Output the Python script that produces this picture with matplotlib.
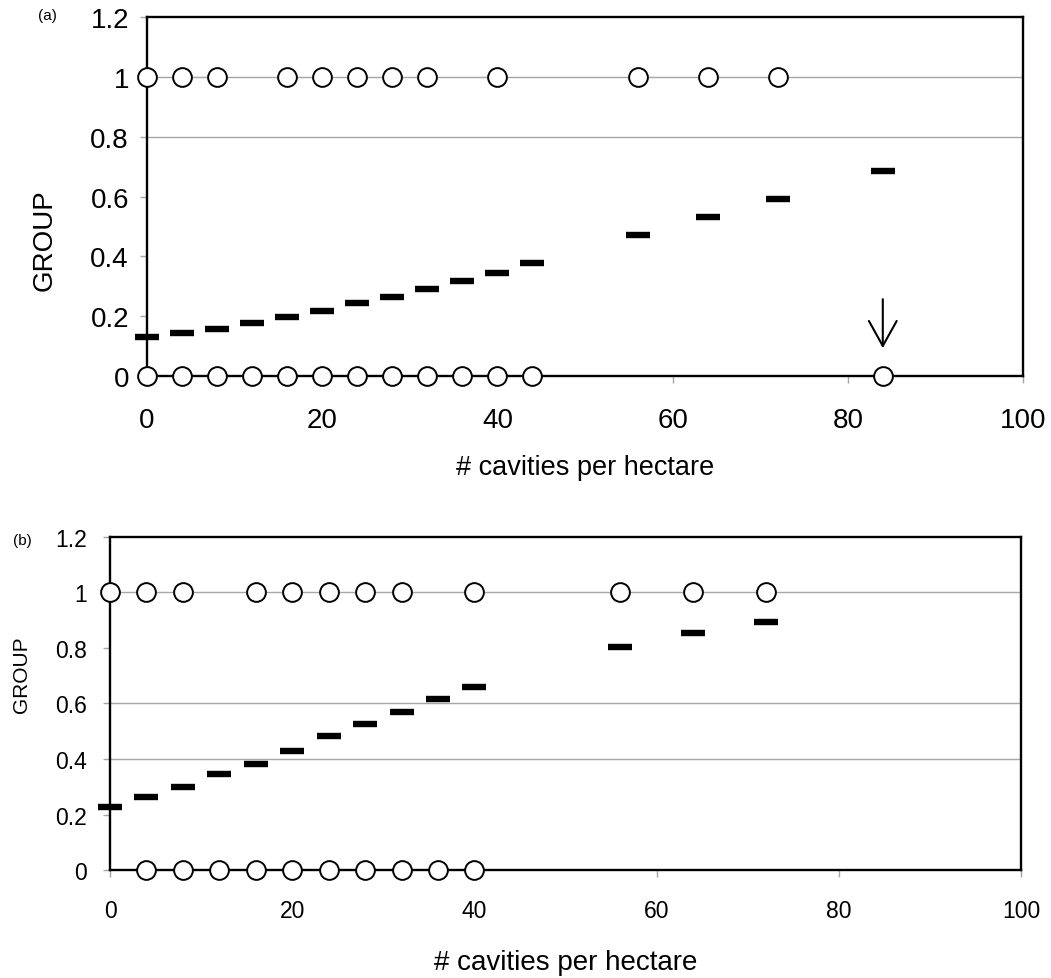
import matplotlib.pyplot as plt
from matplotlib.ticker import FuncFormatter

plt.rcParams["font.family"] = ["Liberation Sans", "DejaVu Sans"]

# panel (a): observed groups and fitted probabilities
a_present_x = [0, 4, 8, 16, 20, 24, 28, 32, 40, 56, 64, 72]
a_absent_x = [0, 4, 8, 12, 16, 20, 24, 28, 32, 36, 40, 44, 84]
a_fit_x = [0, 4, 8, 12, 16, 20, 24, 28, 32, 36, 40, 44, 56, 64, 72, 84]
a_fit_y = [0.130, 0.144, 0.156, 0.177, 0.196, 0.216, 0.244, 0.263, 0.291,
           0.317, 0.343, 0.378, 0.471, 0.530, 0.592, 0.684]
a_grid = [0.8, 1.0]
a_arrow_x = 84

# panel (b)
b_present_x = [0, 4, 8, 16, 20, 24, 28, 32, 40, 56, 64, 72]
b_absent_x = [4, 8, 12, 16, 20, 24, 28, 32, 36, 40]
b_fit_x = [0, 4, 8, 12, 16, 20, 24, 28, 32, 36, 40, 56, 64, 72]
b_fit_y = [0.226, 0.263, 0.300, 0.346, 0.383, 0.428, 0.482, 0.525, 0.569,
           0.615, 0.661, 0.802, 0.854, 0.892]
b_grid = [0.4, 0.6, 1.0]

xticks = [0, 20, 40, 60, 80, 100]
yticks = [0, 0.2, 0.4, 0.6, 0.8, 1.0, 1.2]

fig = plt.figure(figsize=(10.51, 9.79), dpi=100)
ax_a = fig.add_axes([0.1399, 0.6149, 0.8334, 0.3667])
ax_b = fig.add_axes([0.1047, 0.1103, 0.8667, 0.3402])


def draw_panel(ax, present_x, absent_x, fit_x, fit_y, grid, tick_fs, xpad, ypad):
    ax.set_xlim(0, 100)
    ax.set_ylim(0, 1.2)
    for g in grid:
        ax.axhline(g, color="#a6a6a6", lw=1.0, zorder=1)
    ax.plot(fit_x, fit_y, linestyle="none", marker="_", markersize=17,
            markeredgewidth=4.6, color="black", zorder=3, clip_on=False)
    ax.plot(present_x, [1] * len(present_x), linestyle="none", marker="o",
            markersize=13.5, markerfacecolor="white", markeredgecolor="black",
            markeredgewidth=1.4, zorder=4, clip_on=False)
    ax.plot(absent_x, [0] * len(absent_x), linestyle="none", marker="o",
            markersize=13.5, markerfacecolor="white", markeredgecolor="black",
            markeredgewidth=1.4, zorder=4, clip_on=False)
    for s in ax.spines.values():
        s.set_linewidth(1.7)
        s.set_color("black")
    ax.spines["bottom"].set_zorder(2)
    ax.set_xticks(xticks)
    ax.set_yticks(yticks)
    ax.yaxis.set_major_formatter(FuncFormatter(lambda v, p: "%g" % v))
    ax.tick_params(direction="out", length=5, width=1, color="#a6a6a6",
                   labelsize=tick_fs)
    ax.tick_params(axis="x", pad=xpad)
    ax.tick_params(axis="y", pad=ypad)


draw_panel(ax_a, a_present_x, a_absent_x, a_fit_x, a_fit_y, a_grid, 20, 17, 8)
draw_panel(ax_b, b_present_x, b_absent_x, b_fit_x, b_fit_y, b_grid, 16.5, 16, 11.5)

ax_a.annotate("", xy=(a_arrow_x, 0.084), xytext=(a_arrow_x, 0.266),
              arrowprops=dict(arrowstyle="->,head_length=0.9,head_width=0.5",
                              mutation_scale=20, color="black", lw=1.5))

ax_a.set_xlabel("# cavities per hectare", fontsize=19.5)
ax_a.xaxis.set_label_coords(0.5, -0.217)
ax_a.set_ylabel("GROUP", fontsize=20)
ax_a.yaxis.set_label_coords(-0.102, 0.38)
ax_b.set_xlabel("# cavities per hectare", fontsize=20)
ax_b.xaxis.set_label_coords(0.5, -0.238)
ax_b.set_ylabel("GROUP", fontsize=15)
ax_b.yaxis.set_label_coords(-0.087, 0.59)

fig.text(0.045, 0.984, "(a)", fontsize=11, ha="center", va="center")
fig.text(0.021, 0.447, "(b)", fontsize=11, ha="center", va="center")

fig.savefig("out.png", dpi=100)
